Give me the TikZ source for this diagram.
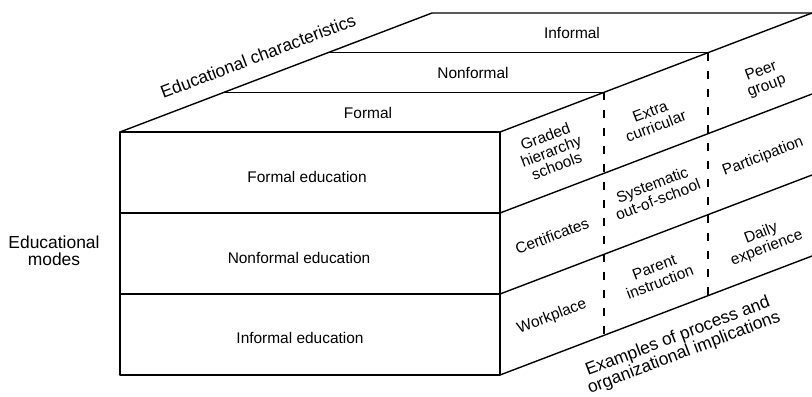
\documentclass[tikz,border=0pt]{standalone}
\usepackage{fontspec}
\setmainfont{Liberation Sans}
\begin{document}
\begin{tikzpicture}[x=1bp,y=-1bp, line width=1.4bp, line join=round,
  lbl/.style={font=\fontsize{15.5}{16}\selectfont, inner sep=0pt, align=center},
  axislbl/.style={font=\fontsize{17.5}{17.5}\selectfont, inner sep=0pt, align=center},
  slant/.style={rotate=20.87},
  sepline/.style={dash pattern=on 8bp off 10bp}]
\useasboundingbox (0,0) rectangle (812,396);
% front face corners
\coordinate (A) at (120,132);
\coordinate (B) at (500,132);
\coordinate (C) at (500,375);
\coordinate (D) at (120,375);
\coordinate (F1L) at (120,213);
\coordinate (F1R) at (500,213);
\coordinate (F2L) at (120,294);
\coordinate (F2R) at (500,294);
% back corners
\coordinate (Ab) at (432,13);
\coordinate (Bb) at (812,13);
% top face divisions
\coordinate (T1L) at (224,92.3);
\coordinate (T1R) at (604,92.3);
\coordinate (T2L) at (328,52.7);
\coordinate (T2R) at (708,52.7);
% right face divisions
\coordinate (R1) at (812,94);
\coordinate (R2) at (812,175);
\coordinate (R3) at (812,256);
\coordinate (S1B) at (604,335.3);
\coordinate (S2B) at (708,295.7);
% front face
\draw (A) -- (B) -- (C) -- (D) -- cycle;
\draw (F1L) -- (F1R);
\draw (F2L) -- (F2R);
% top face
\draw (A) -- (Ab) -- (Bb);
\draw (B) -- (Bb);
\draw (T1L) -- (T1R);
\draw (T2L) -- (T2R);
% right face
\draw (F1R) -- (R1);
\draw (F2R) -- (R2);
\draw (C) -- (R3);
\draw[sepline] (T1R) -- (S1B);
\draw[sepline] (T2R) -- (S2B);
% front labels
\node[lbl] (fe) at (307,177) {Formal education};
\node[lbl] (ne) at (299,258) {Nonformal education};
\node[lbl] (ie) at (300,338) {Informal education};
\node[axislbl] (modes) at (54,251) {Educational\\modes};
% top labels
\node[lbl] (tf) at (368,113) {Formal};
\node[lbl] (tn) at (473,73) {Nonformal};
\node[lbl] (ti) at (572,33) {Informal};
\node[axislbl, slant] (chars) at (258,56) {Educational characteristics};
% right face labels
\node[lbl, slant] (c11) at (551,151) {Graded\\hierarchy\\schools};
\node[lbl, slant] (c12) at (653,119) {Extra\\curricular};
\node[lbl, slant] (c13) at (764,79) {Peer\\group};
\node[lbl, slant] (c21) at (552,236) {Certificates};
\node[lbl, slant] (c22) at (655,192) {Systematic\\out-of-school};
\node[lbl, slant] (c23) at (763,157) {Participation};
\node[lbl, slant] (c31) at (552,317) {Workplace};
\node[lbl, slant] (c32) at (657,275) {Parent\\instruction};
\node[lbl, slant] (c33) at (764,241) {Daily\\experience};
\node[axislbl, slant] (ex) at (681,345) {Examples of process and\\organizational implications};
\end{tikzpicture}
\end{document}
